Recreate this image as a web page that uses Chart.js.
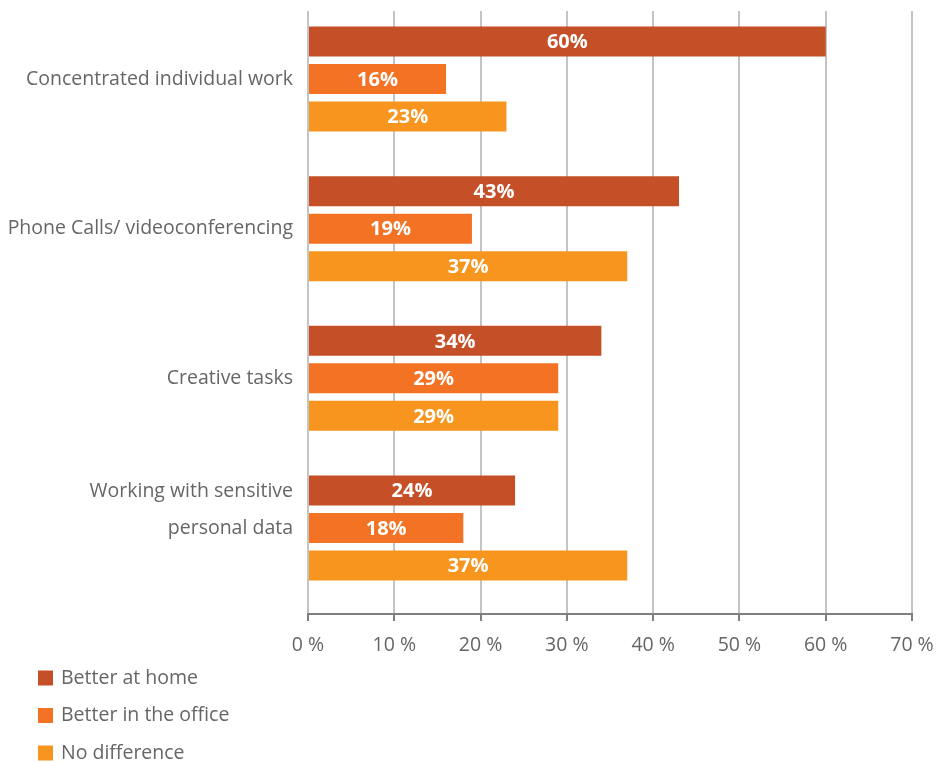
<!DOCTYPE html>
<html>
<head>
<meta charset="utf-8">
<script src="https://cdn.jsdelivr.net/npm/chart.js@4/dist/chart.umd.min.js"></script>
<style>
  html, body { margin: 0; padding: 0; background: #fff; }
  #wrap { position: relative; width: 937px; height: 762px; }
</style>
</head>
<body>
<div id="wrap"><canvas id="chart"></canvas></div>
<script>
// ---------------------------------------------------------------
//  Survey data
// ---------------------------------------------------------------
const categories = [
  "Concentrated individual work",
  "Phone Calls/ videoconferencing",
  "Creative tasks",
  ["Working with sensitive", "personal data", ""],
];
const seriesNames  = ["Better at home", "Better in the office", "No difference"];
const betterHome   = [60, 43, 34, 24];
const betterOffice = [16, 19, 29, 18];
const noDifference = [23, 37, 29, 37];
const xTicks       = [0, 10, 20, 30, 40, 50, 60, 70];

const COLORS = ["#c55027", "#f37223", "#f7951f"];
const TEXT_GREY = "#666666";
const FONT = "'Open Sans', sans-serif";

// bars sit on a numeric index axis so the groups can be spaced freely
function toPoints(values) {
  return values.map((v, i) => ({ x: v, y: i }));
}

// ---------------------------------------------------------------
//  White percentage labels centred in each bar
// ---------------------------------------------------------------
const barLabels = {
  id: "barLabels",
  afterDatasetsDraw(chart) {
    const c = chart.ctx;
    c.save();
    c.fillStyle = "#ffffff";
    c.font = "bold 20px " + FONT;
    c.textAlign = "center";
    c.textBaseline = "middle";
    chart.data.datasets.forEach((ds, di) => {
      chart.getDatasetMeta(di).data.forEach((bar, i) => {
        const x = (bar.x + bar.base) / 2;
        c.fillText(ds.data[i].x + "%", x, bar.y + 1);
      });
    });
    c.restore();
  },
};

// ---------------------------------------------------------------
//  Stacked legend under the axis
// ---------------------------------------------------------------
const columnLegend = {
  id: "columnLegend",
  afterDraw(chart) {
    const c = chart.ctx;
    c.save();
    c.font = "19.5px " + FONT;
    c.textBaseline = "middle";
    chart.data.datasets.forEach((ds, i) => {
      const cy = 678 + i * 37.5;
      c.fillStyle = ds.backgroundColor;
      c.fillRect(38, cy - 7.5, 15, 15);
      c.fillStyle = TEXT_GREY;
      c.fillText(ds.label, 61, cy);
    });
    c.restore();
  },
};

const ctx = document.getElementById("chart").getContext("2d");

new Chart(ctx, {
  type: "bar",
  data: {
    datasets: [betterHome, betterOffice, noDifference].map((vals, i) => ({
      label: seriesNames[i],
      data: toPoints(vals),
      backgroundColor: COLORS[i],
      categoryPercentage: 0.7517,
      barPercentage: 0.8,
    })),
  },
  options: {
    indexAxis: "y",
    responsive: true,
    maintainAspectRatio: false,
    animation: false,
    layout: { padding: { top: 11, right: 25, bottom: 96, left: 0 } },
    scales: {
      x: {
        type: "linear",
        min: 0,
        max: 70,
        afterBuildTicks: s => { s.ticks = xTicks.map(v => ({ value: v })); },
        afterFit: s => {
          s.height = 52;
          s.paddingLeft = 0;
          s.paddingRight = 0;
        },
        ticks: {
          color: TEXT_GREY,
          font: { family: FONT, size: 19.5 },
          padding: 13,
          callback: v => v + " %",
        },
        grid: {
          color: "#c4c4c4",
          lineWidth: 2,
          tickColor: "#7f7f7f",
          tickLength: 7,
        },
        border: { color: "#7f7f7f", width: 2 },
      },
      y: {
        type: "linear",
        bounds: "data",
        offset: false,
        reverse: true,
        min: -0.4543,
        max: 3.5747,
        afterBuildTicks: s => { s.ticks = categories.map((_, i) => ({ value: i })); },
        afterFit: s => {
          s.width = 308;
          s.paddingTop = 0;
          s.paddingBottom = 0;
        },
        ticks: {
          color: TEXT_GREY,
          font: { family: FONT, size: 19.5, lineHeight: 37 / 19.5 },
          padding: 7,
          callback: v => categories[v],
        },
        grid: { display: false },
        border: { display: false },
      },
    },
    plugins: {
      legend: { display: false },
      tooltip: { enabled: false },
    },
  },
  plugins: [barLabels, columnLegend],
});
</script>
</body>
</html>
